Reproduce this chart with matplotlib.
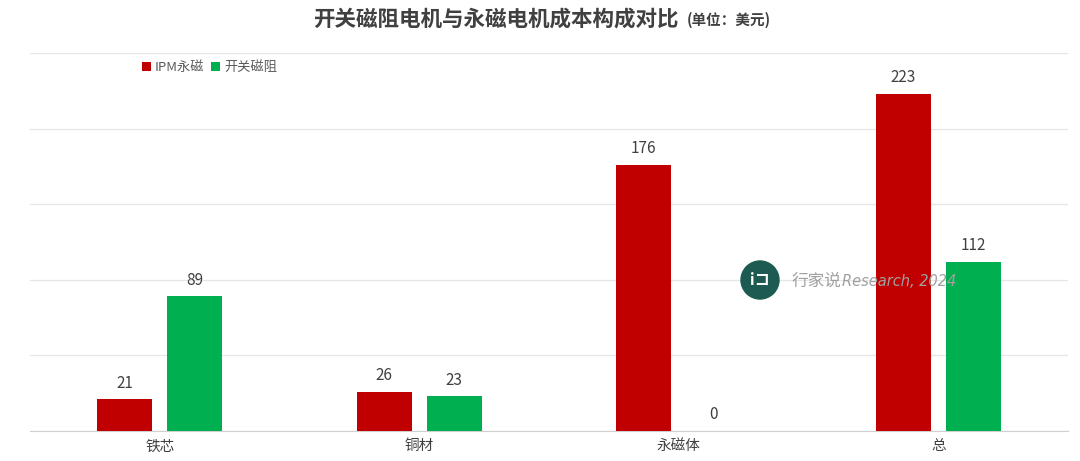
import matplotlib.pyplot as plt
import matplotlib.patches as mpatches
import numpy as np

plt.rcParams['font.family'] = ['Noto Sans CJK SC', 'DejaVu Sans']

categories = ['铁芯', '铜材', '永磁体', '总']
ipm_values = [21, 26, 176, 223]
srm_values = [89, 23, 0, 112]
series_names = ['IPM永磁', '开关磁阻']
colors = ['#C00000', '#00B050']

W, H = 1080, 461
fig = plt.figure(figsize=(W / 100, H / 100), dpi=100)
ax = fig.add_axes([30 / W, 30 / H, 1038 / W, 378 / H])

x = np.arange(len(categories))
width = 0.212
offset = 0.135
bars1 = ax.bar(x - offset, ipm_values, width, color=colors[0], label=series_names[0], zorder=3)
bars2 = ax.bar(x + offset, srm_values, width, color=colors[1], label=series_names[1], zorder=3)

for bars in (bars1, bars2):
    for b in bars:
        h = b.get_height()
        ax.text(b.get_x() + b.get_width() / 2, h + 5, f'{h:g}', ha='center', va='bottom',
                fontsize=11, color='#404040')

ax.set_xlim(-0.5, len(categories) - 0.5)
ax.set_ylim(0, 250)
ax.set_yticks(np.arange(0, 251, 50))
ax.set_yticklabels([])
ax.tick_params(axis='y', length=0)
ax.tick_params(axis='x', length=0, labelsize=10.5, labelcolor='#404040', pad=6)
ax.set_xticks(x)
ax.set_xticklabels(categories)
ax.grid(axis='y', color='#e6e6e6', linewidth=0.9, zorder=0)
for s in ['top', 'right', 'left']:
    ax.spines[s].set_visible(False)
ax.spines['bottom'].set_color('#d0d0d0')

leg = ax.legend(loc='upper left', bbox_to_anchor=(0.1, 1.0), ncol=2, frameon=False,
                fontsize=9.5, handlelength=0.7, handleheight=0.7, handletextpad=0.3,
                columnspacing=0.5, borderaxespad=0.2)
for t in leg.get_texts():
    t.set_color('#595959')

fig.text(313 / W, 1 - 19 / H, '开关磁阻电机与永磁电机成本构成对比', ha='left', va='center',
         fontsize=15.5, fontweight='bold', color='#404040')
fig.text(687 / W, 1 - 20 / H, '(单位：美元)', ha='left', va='center',
         fontsize=10.5, fontweight='bold', color='#404040')

# watermark
cx, cy = 760, 280
circ = mpatches.Ellipse((cx / W, 1 - cy / H), 38 / W, 38 / H, transform=fig.transFigure,
                        color='#1d5a52', zorder=5)
fig.add_artist(circ)
fig.text(cx / W, 1 - cy / H, 'iコ', ha='center', va='center', fontsize=11,
         color='white', fontweight='bold', zorder=6)
fig.text(792 / W, 1 - 281 / H, '行家说', ha='left', va='center', fontsize=12,
         color='#a0a0a0', zorder=6)
fig.text(842 / W, 1 - 281 / H, 'Research, 2024', ha='left', va='center', fontsize=10.5,
         color='#a0a0a0', style='italic', zorder=6, family='DejaVu Sans')

fig.savefig('out.png', dpi=100)
